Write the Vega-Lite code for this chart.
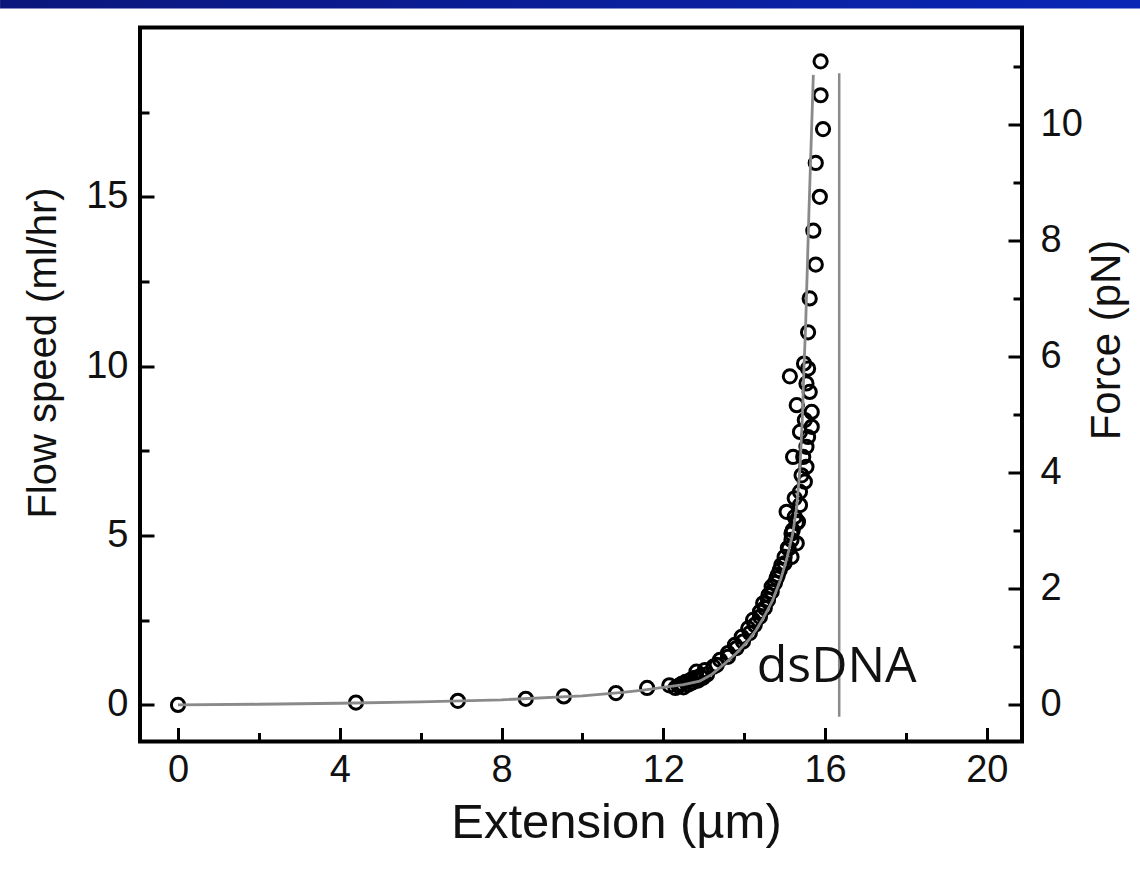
{
  "$schema": "https://vega.github.io/schema/vega-lite/v6.json",
  "autosize": "none",
  "width": 882,
  "height": 714,
  "padding": {"left": 140, "top": 27.5, "right": 118, "bottom": 127.5},
  "background": "white",
  "config": {
    "view": {"stroke": "black", "strokeWidth": 4},
    "axis": {"grid": false, "domain": false, "labelFont": "Liberation Sans", "titleFont": "Liberation Sans", "labelColor": "#111", "titleColor": "#111", "titleFontWeight": "normal", "tickColor": "black", "tickWidth": 3, "labelFlush": false, "labelOverlap": false}
  },
  "datasets": {
    "pts": [
      {"x": 0, "y": 0}, {"x": 4.4, "y": 0.07}, {"x": 6.92, "y": 0.12}, {"x": 8.6, "y": 0.18}, {"x": 9.54, "y": 0.25}, {"x": 10.83, "y": 0.35}, {"x": 11.6, "y": 0.5}, {"x": 12.15, "y": 0.58},
      {"x": 12.3, "y": 0.5}, {"x": 12.38, "y": 0.56}, {"x": 12.45, "y": 0.62}, {"x": 12.5, "y": 0.52}, {"x": 12.55, "y": 0.68}, {"x": 12.62, "y": 0.6}, {"x": 12.68, "y": 0.74}, {"x": 12.72, "y": 0.66}, {"x": 12.78, "y": 0.8}, {"x": 12.82, "y": 0.98}, {"x": 12.86, "y": 0.72}, {"x": 12.92, "y": 0.86}, {"x": 12.98, "y": 0.8}, {"x": 13.03, "y": 1.03}, {"x": 13.08, "y": 0.9},
      {"x": 13.24, "y": 1.13}, {"x": 13.4, "y": 1.33}, {"x": 13.6, "y": 1.53}, {"x": 13.77, "y": 1.77}, {"x": 13.94, "y": 2.01}, {"x": 14.1, "y": 2.26}, {"x": 14.22, "y": 2.51}, {"x": 14.39, "y": 2.75}, {"x": 14.47, "y": 3.0}, {"x": 14.6, "y": 3.24}, {"x": 14.68, "y": 3.49}, {"x": 14.8, "y": 3.74}, {"x": 14.88, "y": 3.98}, {"x": 15.0, "y": 4.18}, {"x": 15.17, "y": 4.37}, {"x": 15.1, "y": 4.62}, {"x": 15.3, "y": 4.77}, {"x": 15.17, "y": 5.06}, {"x": 15.33, "y": 5.41}, {"x": 15.25, "y": 5.55}, {"x": 15.05, "y": 5.7}, {"x": 15.38, "y": 5.9}, {"x": 15.25, "y": 6.1}, {"x": 15.38, "y": 6.29}, {"x": 15.5, "y": 6.59}, {"x": 15.42, "y": 6.78}, {"x": 15.54, "y": 7.03}, {"x": 15.21, "y": 7.32}, {"x": 15.46, "y": 7.32}, {"x": 15.54, "y": 7.62}, {"x": 15.58, "y": 7.91}, {"x": 15.38, "y": 8.06}, {"x": 15.67, "y": 8.21}, {"x": 15.5, "y": 8.41}, {"x": 15.67, "y": 8.65}, {"x": 15.3, "y": 8.85}, {"x": 15.62, "y": 9.24}, {"x": 15.54, "y": 9.49}, {"x": 15.13, "y": 9.7}, {"x": 15.58, "y": 9.93}, {"x": 15.48, "y": 10.08},
      {"x": 13.32, "y": 1.18}, {"x": 13.6, "y": 1.42}, {"x": 13.81, "y": 1.68}, {"x": 13.97, "y": 1.87}, {"x": 14.14, "y": 2.12}, {"x": 14.26, "y": 2.36}, {"x": 14.39, "y": 2.6}, {"x": 14.51, "y": 2.86}, {"x": 14.59, "y": 3.1}, {"x": 14.68, "y": 3.34}, {"x": 14.76, "y": 3.6}, {"x": 14.83, "y": 3.83}, {"x": 14.92, "y": 4.13}, {"x": 15.0, "y": 4.37}, {"x": 15.08, "y": 4.63}, {"x": 15.17, "y": 4.87}, {"x": 15.2, "y": 5.16}, {"x": 15.3, "y": 5.37},
      {"x": 15.58, "y": 11.0}, {"x": 15.62, "y": 12.0}, {"x": 15.77, "y": 13.0}, {"x": 15.71, "y": 14.0}, {"x": 15.87, "y": 15.0}, {"x": 15.77, "y": 16.0}, {"x": 15.95, "y": 17.0}, {"x": 15.89, "y": 18.0}, {"x": 15.89, "y": 19.0}
    ],
    "fit": [
      {"x": 0, "y": 0}, {"x": 2, "y": 0.02}, {"x": 4, "y": 0.05}, {"x": 6, "y": 0.09}, {"x": 8, "y": 0.15}, {"x": 10, "y": 0.27}, {"x": 11, "y": 0.37}, {"x": 11.5, "y": 0.44}, {"x": 12, "y": 0.52}, {"x": 12.5, "y": 0.6}, {"x": 12.9, "y": 0.7}, {"x": 13.2, "y": 0.9}, {"x": 13.5, "y": 1.2}, {"x": 13.8, "y": 1.52}, {"x": 14.1, "y": 1.9}, {"x": 14.3, "y": 2.22}, {"x": 14.5, "y": 2.62}, {"x": 14.7, "y": 3.08}, {"x": 14.9, "y": 3.7}, {"x": 15.05, "y": 4.3}, {"x": 15.2, "y": 5.05}, {"x": 15.3, "y": 5.85}, {"x": 15.38, "y": 7.0}, {"x": 15.44, "y": 8.5}, {"x": 15.48, "y": 10.0}, {"x": 15.52, "y": 11.2}, {"x": 15.6, "y": 14.5}, {"x": 15.71, "y": 18.6}
    ],
    "ref": [{"x": 16.35, "y": 18.65, "y2": -0.35}],
    "lab": [{"x": 14.31, "y": 0.68, "label": "dsDNA"}],
    "bar": [{"x": -4.4, "x2": 23.8, "y": 20.56, "y2": 20.83}]
  },
  "layer": [
    {
      "encoding": {
        "x": {"field": "x", "type": "quantitative", "scale": {"domain": [-0.94, 20.87], "nice": false, "zero": false},
          "axis": {"values": [0, 2, 4, 6, 8, 10, 12, 14, 16, 18, 20], "labelExpr": "datum.value % 4 === 0 ? datum.label : ''",
            "tickSize": {"condition": {"test": "datum.value % 4 === 0", "value": -14}, "value": -9},
            "labelFontSize": 38, "labelPadding": 24, "title": "Extension (µm)", "titleFontSize": 49, "titlePadding": 4, "titleX": 476}},
        "y": {"field": "y", "type": "quantitative", "scale": {"domain": [-1.08, 20], "nice": false, "zero": false},
          "axis": {"values": [0, 2.5, 5, 7.5, 10, 12.5, 15, 17.5], "labelExpr": "datum.value % 5 === 0 ? datum.label : ''",
            "tickSize": {"condition": {"test": "datum.value % 5 === 0", "value": -14}, "value": -9},
            "labelFontSize": 38, "labelPadding": 26, "title": "Flow speed (ml/hr)", "titleFontSize": 40, "titlePadding": 22, "titleY": 325}}
      },
      "layer": [
        {"data": {"name": "pts"}, "mark": {"type": "point", "shape": "circle", "filled": false, "stroke": "black", "strokeWidth": 3, "size": 175, "opacity": 1}},
        {"data": {"name": "fit"}, "mark": {"type": "line", "color": "#8a8a8a", "strokeWidth": 2.8}},
        {"data": {"name": "ref"}, "mark": {"type": "rule", "color": "#8a8a8a", "strokeWidth": 2.5}, "encoding": {"y2": {"field": "y2"}}},
        {"data": {"name": "lab"}, "mark": {"type": "text", "align": "left", "baseline": "alphabetic", "font": "Open Sans", "fontSize": 50, "color": "#111"}, "encoding": {"text": {"field": "label"}}},
        {"data": {"name": "bar"}, "mark": {"type": "rect", "clip": false, "color": {"gradient": "linear", "x1": 0, "x2": 1, "y1": 0, "y2": 0, "stops": [{"offset": 0, "color": "#0b177c"}, {"offset": 1, "color": "#0a26b6"}]}},
          "encoding": {"x2": {"field": "x2"}, "y2": {"field": "y2"}}}
      ]
    },
    {
      "data": {"values": [{}]},
      "mark": {"type": "rule", "opacity": 0},
      "encoding": {
        "y": {"datum": 0, "type": "quantitative", "scale": {"domain": [-0.632, 11.67], "nice": false, "zero": false},
          "axis": {"orient": "right", "values": [0, 1, 2, 3, 4, 5, 6, 7, 8, 9, 10, 11], "labelExpr": "datum.value % 2 === 0 ? datum.label : ''",
            "tickSize": {"condition": {"test": "datum.value % 2 === 0", "value": -14}, "value": -9},
            "labelFontSize": 38, "labelPadding": 32, "title": "Force (pN)", "titleFontSize": 42, "titlePadding": 4, "titleAngle": 270, "titleBaseline": "top", "titleY": 312}}
      }
    }
  ],
  "resolve": {"scale": {"y": "independent"}}
}
